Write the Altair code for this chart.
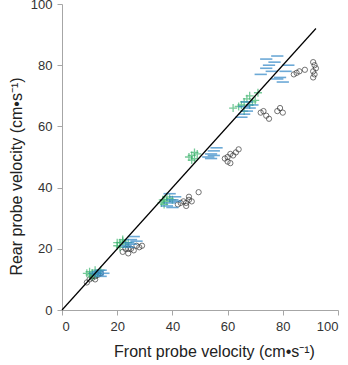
import altair as alt
import pandas as pd

# Green plus series
green_x = [9, 10, 11, 12, 13, 11, 10, 12, 14,
           20, 21, 22, 23, 21, 22, 24, 20,
           36, 37, 38, 39, 37, 38, 40, 36.5,
           46, 47, 48, 49, 47, 48,
           62, 64, 65, 66, 67, 68, 69, 70, 71, 66, 68]
green_y = [12, 12.5, 12, 13, 12, 11, 11.5, 11.5, 13,
           21, 22, 22.5, 21.5, 20.5, 23, 22, 22,
           35, 36, 35.5, 36.5, 34.5, 37, 36, 36,
           50, 50.5, 49.5, 51, 49, 51.5,
           66, 66.5, 67, 68, 69, 70, 68, 68.5, 71, 65, 67]

# Blue dash series
blue_x = [12, 13, 14, 13, 15, 14,
          23, 24, 25, 26, 24, 25, 27,
          38, 39, 40, 41, 39, 40, 41,
          53, 54, 55, 56, 54, 55,
          65, 66, 67, 68, 69, 66, 67,
          72, 74, 75, 77, 78, 76, 79, 80, 81, 82, 78, 74]
blue_y = [12, 12.5, 13, 11.5, 12, 11,
          21, 22, 23, 24, 20.5, 21.5, 22.5,
          34, 35, 36, 37, 38, 33.5, 35.5,
          50, 51, 52, 53, 49.5, 50.5,
          63, 64, 65, 66, 67, 66.5, 68,
          77, 79, 80, 81, 83, 78, 76, 74.5, 78, 80, 75.5, 82]

# Open circle series
circ_x = [9, 10, 11, 12, 13, 14, 11, 12,
          22, 23, 24, 25, 26, 27, 28, 29, 24,
          42, 43, 44, 45, 46, 47, 46, 45, 49.5,
          59, 60, 61, 62, 60, 61, 63, 64,
          72, 73, 74, 75, 78, 79, 80,
          84, 85, 86, 88, 91, 91.5, 91, 92, 91.5, 91]
circ_y = [9, 10, 10.5, 11, 11.5, 12, 11, 10,
          19, 20, 18.5, 20, 19.5, 21, 20.5, 21, 20,
          34.5, 35, 35.5, 35, 36, 35.5, 37, 34, 38.5,
          49.5, 50, 51, 50.5, 48.5, 48, 51.5, 52.5,
          64.5, 65, 63.5, 62.5, 65, 66, 64.5,
          77, 77.5, 78, 78.5, 76, 77, 78, 79, 80, 81]

line_x = [0, 92]
line_y = [0, 92]

green = pd.DataFrame({"x": green_x, "y": green_y})
blue = pd.DataFrame({"x": blue_x, "y": blue_y})
circ = pd.DataFrame({"x": circ_x, "y": circ_y})
line = pd.DataFrame({"x": line_x, "y": line_y})

axis_common = dict(
    grid=False, domainColor="#a6a6a6", tickColor="#a6a6a6", tickSize=5,
    labelFont="Liberation Sans", labelFontSize=13, labelColor="#333333",
    titleFont="Liberation Sans", titleFontSize=16, titleFontWeight="normal",
    titleColor="#222222", values=[0, 20, 40, 60, 80, 100],
)

xs = alt.X("x:Q", scale=alt.Scale(domain=[0, 100], nice=False),
           axis=alt.Axis(title="Front probe velocity (cm•s⁻¹)", titlePadding=10, labelPadding=5,
                         titleX=152, **axis_common))
ys = alt.Y("y:Q", scale=alt.Scale(domain=[0, 100], nice=False),
           axis=alt.Axis(title="Rear probe velocity (cm•s⁻¹)", titlePadding=6, labelPadding=5,
                         titleY=172, **axis_common))

line_layer = alt.Chart(line).mark_line(color="black", strokeWidth=1.2).encode(x=xs, y=ys)
circ_layer = alt.Chart(circ).mark_point(shape="circle", filled=False, color="#222222", size=28, strokeWidth=0.9).encode(x=xs, y=ys)
green_layer = alt.Chart(green).mark_point(shape="M-1,0L1,0M0,-1L0,1", filled=False, color="#3cb46e", size=64, strokeWidth=1.3).encode(x=xs, y=ys)
blue_layer = alt.Chart(blue).mark_point(shape="M-1,0L1,0", filled=False, color="#2f86c6", size=150, strokeWidth=1.6).encode(x=xs, y=ys)

chart = alt.layer(circ_layer, green_layer, blue_layer, line_layer).properties(
    width=276, height=306,
    autosize=alt.AutoSizeParams(type="none"),
    padding={"left": 62, "top": 4, "right": 10, "bottom": 55},
).configure_view(stroke=None)

chart.save("out.html", embed_options={"renderer": "svg", "actions": False})
